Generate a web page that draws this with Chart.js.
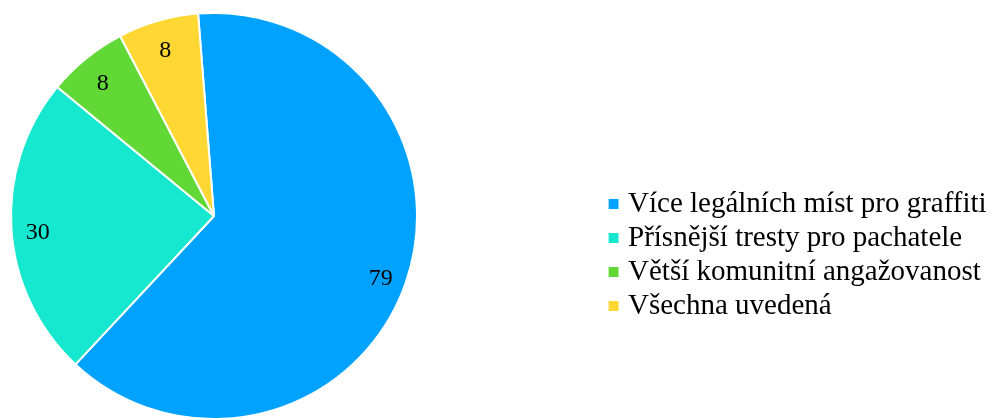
<!DOCTYPE html>
<html>
<head>
<meta charset="utf-8">
<script src="https://cdn.jsdelivr.net/npm/chart.js@4/dist/chart.umd.min.js"></script>
<style>
  html, body { margin: 0; padding: 0; background: #ffffff; }
  #wrap { width: 994px; height: 420px; position: relative; }
</style>
</head>
<body>
<div id="wrap"><canvas id="c" width="994" height="420"></canvas></div>
<script>
const categories = [
  "Více legálních míst pro graffiti",
  "Přísnější tresty pro pachatele",
  "Větší komunitní angažovanost",
  "Všechna uvedená"
];
const values = [79, 30, 8, 8];
const colors = ["#00A2FF", "#16E7CF", "#61D836", "#FFD732"];

const FONT = "'Liberation Serif', 'Times New Roman', serif";
const LEGEND_SIZE = 29;
const LEGEND_PAD = 5;
const LABEL_SIZE = 24;

const placePlugin = {
  id: 'placePlugin',
  afterLayout(chart) {
    const ca = chart.chartArea;
    ca.left = 10; ca.right = 418; ca.top = 12; ca.bottom = 420;
    ca.width = ca.right - ca.left; ca.height = ca.bottom - ca.top;
    const lg = chart.legend;
    if (lg) {
      lg.left = 613.5 - LEGEND_PAD;
      lg.right = 994;
      lg.top = 189.5 - LEGEND_PAD;
      lg.bottom = 420;
      lg.width = lg.right - lg.left;
      lg.height = lg.bottom - lg.top;
    }
  }
};

const labelPlugin = {
  id: 'sliceLabels',
  afterDatasetsDraw(chart) {
    const ctx = chart.ctx;
    const meta = chart.getDatasetMeta(0);
    ctx.save();
    ctx.font = LABEL_SIZE + "px " + FONT;
    ctx.fillStyle = "#000000";
    ctx.textAlign = "center";
    ctx.textBaseline = "alphabetic";
    meta.data.forEach((arc, i) => {
      const p = arc.getProps(['x', 'y', 'startAngle', 'endAngle', 'outerRadius'], true);
      const mid = (p.startAngle + p.endAngle) / 2;
      const r = p.outerRadius * 0.87;
      const cx = p.x + Math.cos(mid) * r;
      const cy = p.y + Math.sin(mid) * r;
      ctx.fillText(String(values[i]), cx, cy + LABEL_SIZE * 0.34 + 3);
    });
    ctx.restore();
  }
};

new Chart(document.getElementById('c'), {
  type: 'pie',
  data: {
    labels: categories,
    datasets: [{
      data: values,
      backgroundColor: colors,
      borderColor: '#ffffff',
      borderWidth: 2,
      hoverBorderWidth: 2,
      clip: false
    }]
  },
  options: {
    responsive: false,
    animation: false,
    rotation: -4.5,
    plugins: {
      tooltip: { enabled: false },
      legend: {
        position: 'right',
        align: 'start',
        labels: {
          color: '#000000',
          font: { family: FONT, size: LEGEND_SIZE },
          usePointStyle: true,
          pointStyle: 'rect',
          boxWidth: 0.01,
          boxHeight: 12,
          padding: LEGEND_PAD
        }
      }
    }
  },
  plugins: [placePlugin, labelPlugin]
});
</script>
</body>
</html>
